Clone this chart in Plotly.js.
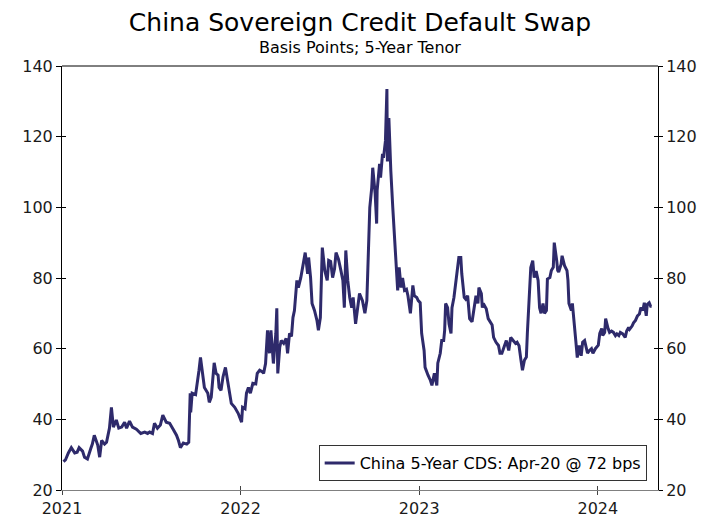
<!DOCTYPE html>
<html>
<head>
<meta charset="utf-8">
<script src="https://cdn.plot.ly/plotly-3.0.1.min.js"></script>
<style>html,body{margin:0;padding:0;background:#fff;}#chart{width:716px;height:518px;}</style>
</head>
<body>
<div id="chart"></div>
<script>
const dates = [
"2021-01-04","2021-01-08","2021-01-14","2021-01-20","2021-01-27","2021-02-01","2021-02-05","2021-02-12","2021-02-16","2021-02-22",
"2021-03-01","2021-03-04","2021-03-08","2021-03-15","2021-03-19","2021-03-23","2021-03-29","2021-04-02","2021-04-08","2021-04-12",
"2021-04-16","2021-04-22","2021-04-27","2021-05-03","2021-05-09","2021-05-13","2021-05-19","2021-05-25","2021-06-02","2021-06-11",
"2021-06-19","2021-06-25","2021-06-29","2021-07-05","2021-07-09","2021-07-15","2021-07-21","2021-07-26","2021-08-02","2021-08-09",
"2021-08-17","2021-08-23","2021-08-27","2021-08-31","2021-09-06","2021-09-13","2021-09-17","2021-09-20","2021-09-21","2021-09-24",
"2021-10-01","2021-10-05","2021-10-08","2021-10-11","2021-10-15","2021-10-19","2021-10-26","2021-10-29","2021-11-02","2021-11-05",
"2021-11-08","2021-11-12","2021-11-16","2021-11-18","2021-11-22","2021-11-26","2021-12-01","2021-12-03","2021-12-09","2021-12-13",
"2021-12-20","2021-12-27","2022-01-03","2022-01-05","2022-01-10","2022-01-13","2022-01-17","2022-01-21","2022-01-26","2022-02-01",
"2022-02-04","2022-02-09","2022-02-14","2022-02-17","2022-02-21","2022-02-25","2022-03-01","2022-03-04","2022-03-09","2022-03-14",
"2022-03-16","2022-03-18","2022-03-22","2022-03-25","2022-03-30","2022-04-04","2022-04-07","2022-04-11","2022-04-15","2022-04-18",
"2022-04-21","2022-04-26","2022-04-29","2022-05-04","2022-05-09","2022-05-12","2022-05-13","2022-05-18","2022-05-20","2022-05-24",
"2022-05-27","2022-06-01","2022-06-06","2022-06-09","2022-06-13","2022-06-16","2022-06-17","2022-06-22","2022-06-27","2022-06-30",
"2022-07-04","2022-07-08","2022-07-12","2022-07-15","2022-07-20","2022-07-25","2022-07-29","2022-08-01","2022-08-04","2022-08-08",
"2022-08-12","2022-08-16","2022-08-19","2022-08-24","2022-08-26","2022-09-01","2022-09-07","2022-09-12","2022-09-16","2022-09-22",
"2022-09-26","2022-09-28","2022-10-03","2022-10-06","2022-10-07","2022-10-12","2022-10-14","2022-10-18","2022-10-20","2022-10-24",
"2022-10-27","2022-10-28","2022-10-31","2022-11-02","2022-11-04","2022-11-08","2022-11-11","2022-11-16","2022-11-18","2022-11-21",
"2022-11-25","2022-11-28","2022-12-02","2022-12-06","2022-12-09","2022-12-14","2022-12-19","2022-12-22","2022-12-27","2022-12-30",
"2023-01-03","2023-01-06","2023-01-11","2023-01-13","2023-01-16","2023-01-19","2023-01-24","2023-01-27","2023-02-01","2023-02-06",
"2023-02-08","2023-02-13","2023-02-16","2023-02-20","2023-02-22","2023-02-24","2023-02-28","2023-03-03","2023-03-07","2023-03-09",
"2023-03-13","2023-03-17","2023-03-20","2023-03-23","2023-03-27","2023-03-29","2023-04-03","2023-04-06","2023-04-10","2023-04-14",
"2023-04-19","2023-04-24","2023-04-27","2023-05-01","2023-05-03","2023-05-08","2023-05-10","2023-05-12","2023-05-18","2023-05-22",
"2023-05-26","2023-05-30","2023-06-02","2023-06-07","2023-06-12","2023-06-15","2023-06-19","2023-06-23","2023-06-28","2023-07-03",
"2023-07-05","2023-07-07","2023-07-12","2023-07-17","2023-07-20","2023-07-24","2023-07-28","2023-07-31","2023-08-04","2023-08-08",
"2023-08-10","2023-08-14","2023-08-17","2023-08-21","2023-08-24","2023-08-28","2023-09-01","2023-09-04","2023-09-07","2023-09-11",
"2023-09-14","2023-09-18","2023-09-20","2023-09-25","2023-09-28","2023-10-02","2023-10-04","2023-10-09","2023-10-11","2023-10-13",
"2023-10-18","2023-10-20","2023-10-25","2023-10-30","2023-11-01","2023-11-03","2023-11-08","2023-11-10","2023-11-14","2023-11-17",
"2023-11-20","2023-11-24","2023-11-28","2023-12-01","2023-12-05","2023-12-11","2023-12-15","2023-12-19","2023-12-22","2023-12-27",
"2024-01-02","2024-01-05","2024-01-09","2024-01-11","2024-01-15","2024-01-17","2024-01-22","2024-01-25","2024-01-29","2024-02-02",
"2024-02-06","2024-02-09","2024-02-13","2024-02-16","2024-02-21","2024-02-26","2024-02-29","2024-03-04","2024-03-06","2024-03-11",
"2024-03-14","2024-03-18","2024-03-22","2024-03-26","2024-03-29","2024-04-02","2024-04-05","2024-04-09","2024-04-11","2024-04-15",
"2024-04-18","2024-04-20"
];
const cdsBps = [
28,28.5,30.5,32,30.5,30.7,32,31,29.3,28.8,
31.8,33,35.5,32.7,29.3,34,33,33.5,37.5,43.4,
37.8,39.8,37.5,37.8,39.2,37.5,39.5,37.8,37.2,36,
36.4,36,36.4,36,38.9,37.5,38.4,41.2,39.2,38.9,
37,35.5,34,32,33.3,33,33.5,47.4,42,47.4,
47,52,53.9,57.5,53.9,49,47.4,44.8,46.3,51.9,
56,53,52.5,49,48.2,52,54.7,53,48.2,44.5,
43.4,41.7,39.2,43.4,43,47.4,49,47.4,50.2,50,
53,53.9,53.5,53,55.8,65.2,58.7,65.2,55.8,64.3,
71.4,53,60.4,62.3,61.5,62.9,58.7,64.3,63.5,68.8,
70.8,79.3,77.3,80.1,84,86.3,87.2,81.2,85.8,80.1,
72.8,70.8,68,65.2,68.8,84,88.6,82.1,79.3,85,
84.7,80.1,82.6,87.2,85.3,82.1,79.3,71.6,87.8,79.3,
74.5,71.6,74.5,67,69,75.6,73.6,70,73.6,99.9,
105.6,111.2,103.8,95.4,104.7,112.3,108.4,115.1,114,118.8,
133.5,113,125.3,116.8,110.3,99.9,93.4,79.3,76.5,83,
77.3,80,76.5,76.8,75,70,77.9,75,74.5,73.6,
73,64.3,59.5,54.7,53.3,52.5,51,49.6,53,49.6,
55.9,58.7,62.3,62.3,65.2,72.8,71.6,67,64.3,71.6,
74.5,79.3,83,85.8,85.8,81.2,74.5,74,75,68.5,
67.6,71.6,75,72.8,77.3,75.6,71.6,72.8,71.3,68.5,
67.6,66.7,63.2,61.8,60.9,58.7,58.7,60.4,62.3,59.5,
61.5,63.2,62.3,61.5,61.8,60.8,56.7,53.9,56.7,57.6,
64.3,76.5,83,84.9,80.1,82,79.3,71.6,70,72.8,
70,70.8,79.7,80.1,82.1,83,90,84.9,82.1,81.7,
83.9,86.3,83.5,82.1,79.3,72.8,70.8,72.8,65.2,62.3,
57.5,60.9,58,61.8,62.3,58.7,59.5,60,58.7,60,
61,64.3,65.7,63.7,64.6,68.5,65.7,64.6,65,64.6,
63.7,64.2,63.7,64.6,64.2,63.2,65,66,65.5,66.4,
67.3,68,69.3,69.8,71.6,70.8,73,69.3,72.5,73,
72,72
];
const seriesName = "China 5-Year CDS: Apr-20 @ 72 bps";
const yTicks = [20,40,60,80,100,120,140];
const xTickVals = ["2021-01-01","2022-01-01","2023-01-01","2024-01-01"];
const xTickText = ["2021","2022","2023","2024"];
const xRange = ["2021-01-01","2024-05-03"];
const yRange = [20,140];

const FONT = "DejaVu Sans, Verdana, sans-serif";
const LINE = "#2e2a6b";

// main visible series
const traces = [{
  type: "scatter", mode: "lines", x: dates, y: cdsBps, name: seriesName,
  line: {color: LINE, width: 3}, xaxis: "x", yaxis: "y"
}];
// invisible copies so the extra tick-only axes are drawn
[["x2","y"],["x","y2"],["x","y3"],["x","y4"]].forEach(function(p){
  traces.push({type: "scatter", mode: "lines", x: dates, y: cdsBps, xaxis: p[0], yaxis: p[1],
               opacity: 0, line: {width: 0}, showlegend: false, hoverinfo: "skip"});
});

const yCommon = {range: yRange, tickvals: yTicks, fixedrange: true, showgrid: false, zeroline: false, automargin: false};
const xCommon = {type: "date", range: xRange, tickvals: xTickVals, ticktext: xTickText, showgrid: false, zeroline: false, automargin: false};

const layout = {
  width: 716, height: 518,
  margin: {l: 62, r: 58, t: 66, b: 28, pad: 0},
  paper_bgcolor: "#fff", plot_bgcolor: "#fff",
  font: {family: FONT, size: 16, color: "#1a1a1a"},
  title: {text: "China Sovereign Credit Default Swap", font: {family: FONT, size: 25, color: "#000"},
          x: 0.5, xref: "paper", xanchor: "center", y: 1 - 22/518, yref: "container", yanchor: "middle"},
  annotations: [{text: "Basis Points; 5-Year Tenor", xref: "paper", yref: "paper", x: 0.5, y: (490-47.5)/424,
                 xanchor: "center", yanchor: "middle", showarrow: false, font: {family: FONT, size: 16, color: "#000"}}],
  showlegend: true,
  legend: {x: 0.981, y: 0.021, xanchor: "right", yanchor: "bottom", bgcolor: "#fff",
           bordercolor: "#333", borderwidth: 1, font: {family: FONT, size: 16, color: "#000"}},
  xaxis: Object.assign({}, xCommon, {anchor: "y", side: "bottom", showline: true, linecolor: "#808080", linewidth: 1,
          ticks: "outside", ticklen: 4, tickcolor: "#444", tickwidth: 1, showticklabels: true, tickfont: {size: 16, family: FONT}}),
  xaxis2: Object.assign({}, xCommon, {overlaying: "x", anchor: "y", side: "bottom", showline: false,
          ticks: "inside", ticklen: 4, tickcolor: "#444", tickwidth: 1, showticklabels: false}),
  yaxis: Object.assign({}, yCommon, {anchor: "x", side: "left", showline: true, linecolor: "#000", linewidth: 1,
          ticks: "outside", ticklen: 5, tickcolor: "#000", tickwidth: 1, showticklabels: true, tickfont: {size: 16, family: FONT}}),
  yaxis2: Object.assign({}, yCommon, {overlaying: "y", anchor: "x", side: "left", showline: false,
          ticks: "inside", ticklen: 4, tickcolor: "#000", tickwidth: 1, showticklabels: false}),
  yaxis3: Object.assign({}, yCommon, {overlaying: "y", anchor: "x", side: "right", showline: true, linecolor: "#000", linewidth: 1,
          ticks: "outside", ticklen: 4, tickcolor: "#000", tickwidth: 1, showticklabels: true, tickfont: {size: 16, family: FONT}}),
  yaxis4: Object.assign({}, yCommon, {overlaying: "y", anchor: "x", side: "right", showline: false,
          ticks: "inside", ticklen: 4, tickcolor: "#000", tickwidth: 1, showticklabels: false}),
  shapes: [{type: "line", xref: "paper", yref: "paper", x0: 0, x1: 1, y0: 1, y1: 1, line: {color: "#000", width: 1}}]
};

Plotly.newPlot("chart", traces, layout, {staticPlot: true, displayModeBar: false});
</script>
</body>
</html>
